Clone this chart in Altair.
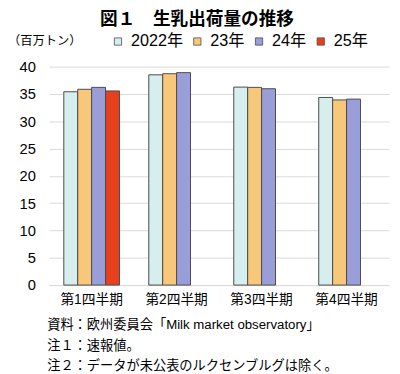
import altair as alt
import pandas as pd

quarters = ["第1四半期", "第2四半期", "第3四半期", "第4四半期"]
years = ["2022年", "23年", "24年", "25年"]
v2022 = [35.4, 38.5, 36.25, 34.35]
v2023 = [35.85, 38.7, 36.2, 33.9]
v2024 = [36.2, 38.9, 35.95, 34.05]
v2025 = [35.55]
colors = ["#d6eeee", "#f8c87a", "#9a9ed8", "#e8401c"]
title_text = "図１　生乳出荷量の推移"
unit_text = "（百万トン）"
notes = [
    "資料：欧州委員会「Milk market observatory」",
    "注１：速報値。",
    "注２：データが未公表のルクセンブルグは除く。",
]

rows = []
for series, yr in zip([v2022, v2023, v2024, v2025], years):
    for q, v in zip(quarters, series):
        rows.append({"quarter": q, "year": yr, "value": v})
df = pd.DataFrame(rows)

FONT = "'Liberation Sans', Arial, 'Noto Sans CJK JP', sans-serif"

bars = alt.Chart(df).mark_bar(stroke="#4a4a4a", strokeWidth=1).encode(
    x=alt.X("quarter:N", sort=quarters, title=None,
            scale=alt.Scale(paddingInner=0.345, paddingOuter=0.1725),
            axis=alt.Axis(labelAngle=0, ticks=False, domain=True, domainColor="#d9d9d9",
                          labelFontSize=14, labelPadding=8, labelColor="#000")),
    xOffset=alt.XOffset("year:N", sort=years, scale=alt.Scale(domain=years, paddingInner=0, paddingOuter=0)),
    y=alt.Y("value:Q", title=None,
            scale=alt.Scale(domain=[0, 40], nice=False),
            axis=alt.Axis(values=list(range(0, 41, 5)), ticks=False, domain=False,
                          gridColor="#d9d9d9", labelFontSize=15, labelPadding=14,
                          labelColor="#000")),
    color=alt.Color("year:N", sort=years,
                    scale=alt.Scale(domain=years, range=colors),
                    legend=alt.Legend(orient="none", legendX=62, legendY=-34,
                                      direction="horizontal", title=None,
                                      symbolType="square", symbolSize=55,
                                      symbolStrokeColor="#4a4a4a", symbolStrokeWidth=0.8,
                                      labelFontSize=16.5, columnPadding=6,
                                      labelOffset=5, labelColor="#000")),
)

title = alt.Chart(pd.DataFrame({"t": [title_text]})).mark_text(
    fontSize=18, fontWeight="bold", align="center", baseline="middle", color="#000"
).encode(x=alt.value(151), y=alt.value(-47), text="t:N")

unit = alt.Chart(pd.DataFrame({"t": [unit_text]})).mark_text(
    fontSize=12.5, align="left", baseline="middle", color="#000"
).encode(x=alt.value(-42), y=alt.value(-26), text="t:N")

note_layers = [
    alt.Chart(pd.DataFrame({"t": [n]})).mark_text(
        fontSize=13.5, align="left", baseline="middle", color="#000"
    ).encode(x=alt.value(-2), y=alt.value(264 + 21 * i), text="t:N")
    for i, n in enumerate(notes)
]

chart = alt.layer(bars, title, unit, *note_layers).properties(
    width=347, height=223,
    autosize=alt.AutoSizeParams(type="none"),
    padding={"left": 42, "top": 56, "right": 3, "bottom": 90},
).configure(font=FONT).configure_view(stroke=None)

chart.save("out.html", embed_options={"renderer": "svg", "actions": False})
